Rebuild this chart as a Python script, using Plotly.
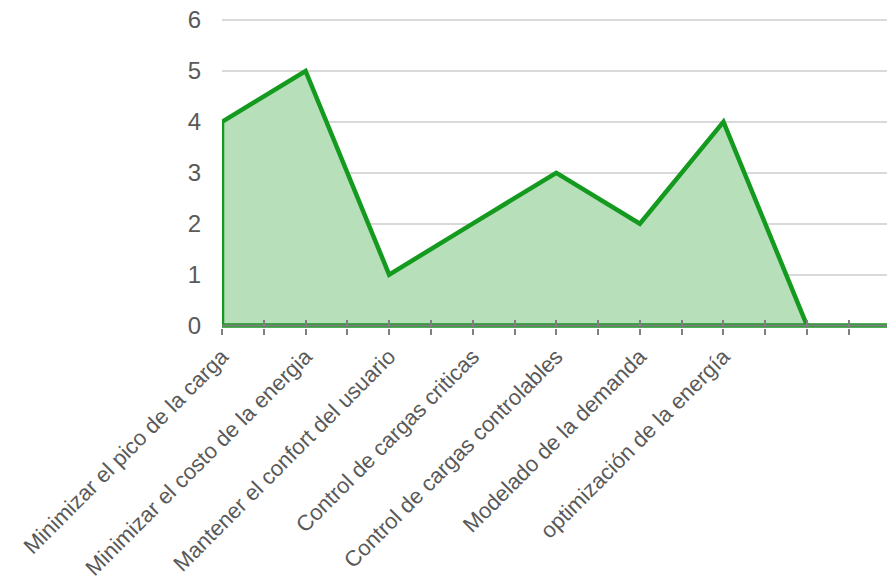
import plotly.graph_objects as go

categories = [
    "Minimizar el pico de la carga",
    "Minimizar el costo de la energia",
    "Mantener el confort del usuario",
    "Control de cargas criticas",
    "Control de cargas controlables",
    "Modelado de la demanda",
    "optimización de la energía",
    "",
    "",
]
values = [4, 5, 1, 2, 3, 2, 4, 0, 0]
y_ticks = [0, 1, 2, 3, 4, 5, 6]

idx = list(range(len(categories)))
# closed outline (Excel area chart border incl. left edge and base)
poly_x = [idx[0]] + idx + [idx[-1], idx[0]]
poly_y = [0] + values + [0, 0]

tickvals = []
ticktext = []
for i, c in enumerate(categories):
    tickvals.append(i)
    ticktext.append(c)
    tickvals.append(i + 0.5)
    ticktext.append("")

GREEN = "#149b1f"
FILL = "#b7dfb9"
GREY = "#808080"
TXT = "#595959"
FONT = "Liberation Sans"

fig = go.Figure()
fig.add_trace(go.Scatter(
    x=idx, y=values, mode="none", hoverinfo="skip", showlegend=False,
))
fig.add_trace(go.Scatter(
    x=poly_x, y=poly_y, mode="lines", fill="toself", fillcolor=FILL, xaxis="x2",
    line=dict(color=GREEN, width=4.5), hoverinfo="skip", showlegend=False,
))

xr = [0, 7.957]
fig.update_layout(
    width=887, height=588,
    margin=dict(l=222, r=0, t=15, b=260),
    plot_bgcolor="white", paper_bgcolor="white",
    font=dict(family=FONT, size=22, color=TXT),
    xaxis=dict(
        range=xr, tickmode="array", tickvals=tickvals, ticktext=ticktext,
        tickangle=-45, ticks="outside", ticklen=6, tickwidth=2, tickcolor=GREY,
        showgrid=False, zeroline=False, showline=False, automargin=False,
        tickfont=dict(family=FONT, size=22, color=TXT),
    ),
    xaxis2=dict(
        range=xr, overlaying="x", anchor="y", side="bottom",
        tickmode="array", tickvals=tickvals, ticks="inside", ticklen=8,
        tickwidth=2, tickcolor=GREY, showticklabels=False, layer="above traces",
        showgrid=False, zeroline=False, showline=False, automargin=False,
    ),
    yaxis=dict(
        range=[-0.049, 6.1], tickmode="array", tickvals=y_ticks,
        showgrid=True, gridcolor="#d9d9d9", gridwidth=1.5,
        zeroline=False, showline=False, ticks="", automargin=False,
        ticklabelstandoff=20,
        tickfont=dict(family=FONT, size=24, color=TXT),
    ),
    shapes=[dict(
        type="line", xref="paper", yref="y", x0=0, x1=1, y0=0, y1=0,
        line=dict(color=GREY, width=2), layer="above",
    )],
)

fig.write_html("out.html")
